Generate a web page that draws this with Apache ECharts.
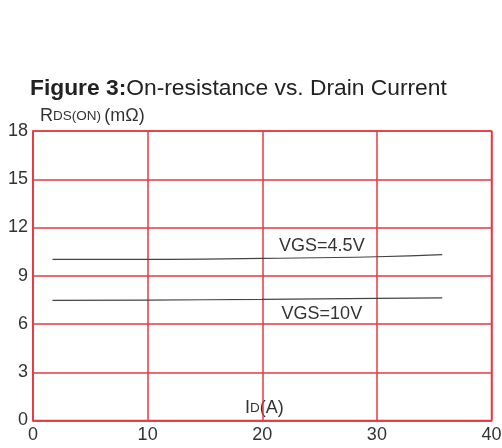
<!DOCTYPE html>
<html>
<head>
<meta charset="utf-8">
<script src="https://cdn.jsdelivr.net/npm/echarts@6/dist/echarts.min.js"></script>
<style>html,body{margin:0;padding:0;background:#fff}#c{width:502px;height:448px}</style>
</head>
<body>
<div id="c"></div>
<script>
var xTicks = [0, 10, 20, 30, 40];
var yTicks = [0, 3, 6, 9, 12, 15, 18];
var idVgs45 = [1.7, 10, 20, 30, 35.7];
var rVgs45 = [10.02, 10.02, 10.08, 10.18, 10.31];
var idVgs10 = [1.7, 10, 20, 30, 35.7];
var rVgs10 = [7.47, 7.49, 7.53, 7.59, 7.62];
var seriesNames = ['VGS=4.5V', 'VGS=10V'];
var labelPos = [[25.2, 10.85], [25.2, 6.62]];

function pairs(xs, ys) { return xs.map(function (x, i) { return [x, ys[i]]; }); }

var red = '#e63a42';
var font = 'Liberation Sans, Arial';
var chart = echarts.init(document.getElementById('c'));
chart.setOption({
  animation: false,
  backgroundColor: '#fff',
  title: {
    text: '{b|Figure 3:}{n|On-resistance vs. Drain Current}',
    left: 30, top: 77, padding: 0,
    textStyle: {
      rich: {
        b: { fontFamily: font, fontSize: 22.8, fontWeight: 'bold', color: '#222' },
        n: { fontFamily: font, fontSize: 22.8, fontWeight: 'normal', color: '#222' }
      }
    }
  },
  grid: { left: 33, right: 10.5, top: 131, bottom: 27.5, show: true, borderColor: red, borderWidth: 1.5,
          containLabel: false, outerBoundsMode: 'none' },
  graphic: [{
    type: 'text', left: 245, top: 399,
    style: {
      text: '{a|I}{b|D}{a|(A)}',
      rich: {
        a: { fontFamily: font, fontSize: 18, fill: '#333' },
        b: { fontFamily: font, fontSize: 13.5, fill: '#333' }
      }
    }
  }],
  xAxis: {
    type: 'value', min: xTicks[0], max: xTicks[xTicks.length - 1], interval: 10,
    axisLine: { lineStyle: { color: red, width: 1.5 } },
    axisTick: { show: false },
    splitLine: { show: true, lineStyle: { color: red, width: 1.5 } },
    axisLabel: { fontFamily: font, fontSize: 18, color: '#333', margin: 6 }
  },
  yAxis: {
    type: 'value', min: yTicks[0], max: yTicks[yTicks.length - 1], interval: 3,
    name: '{a|R}{b|DS(ON)} {a|(mΩ)}', nameLocation: 'end', nameGap: 6,
    nameTextStyle: { align: 'left', padding: [0, 0, 0, 7], rich: {
      a: { fontFamily: font, fontSize: 18, color: '#333' },
      b: { fontFamily: font, fontSize: 13.5, color: '#333' }
    } },
    axisLine: { show: true, lineStyle: { color: red, width: 1.5 } },
    axisTick: { show: false },
    splitLine: { show: true, lineStyle: { color: red, width: 1.5 } },
    axisLabel: { fontFamily: font, fontSize: 18, color: '#333', margin: 5 }
  },
  series: [
    {
      name: seriesNames[0], type: 'line', smooth: true, symbol: 'none',
      data: pairs(idVgs45, rVgs45),
      lineStyle: { color: '#444', width: 1.2 },
      markPoint: {
        symbol: 'circle', symbolSize: 0,
        label: { show: true, formatter: seriesNames[0], fontFamily: font, fontSize: 18, color: '#333' },
        data: [{ coord: labelPos[0] }]
      }
    },
    {
      name: seriesNames[1], type: 'line', smooth: true, symbol: 'none',
      data: pairs(idVgs10, rVgs10),
      lineStyle: { color: '#444', width: 1.2 },
      markPoint: {
        symbol: 'circle', symbolSize: 0,
        label: { show: true, formatter: seriesNames[1], fontFamily: font, fontSize: 18, color: '#333' },
        data: [{ coord: labelPos[1] }]
      }
    }
  ]
});
</script>
</body>
</html>
